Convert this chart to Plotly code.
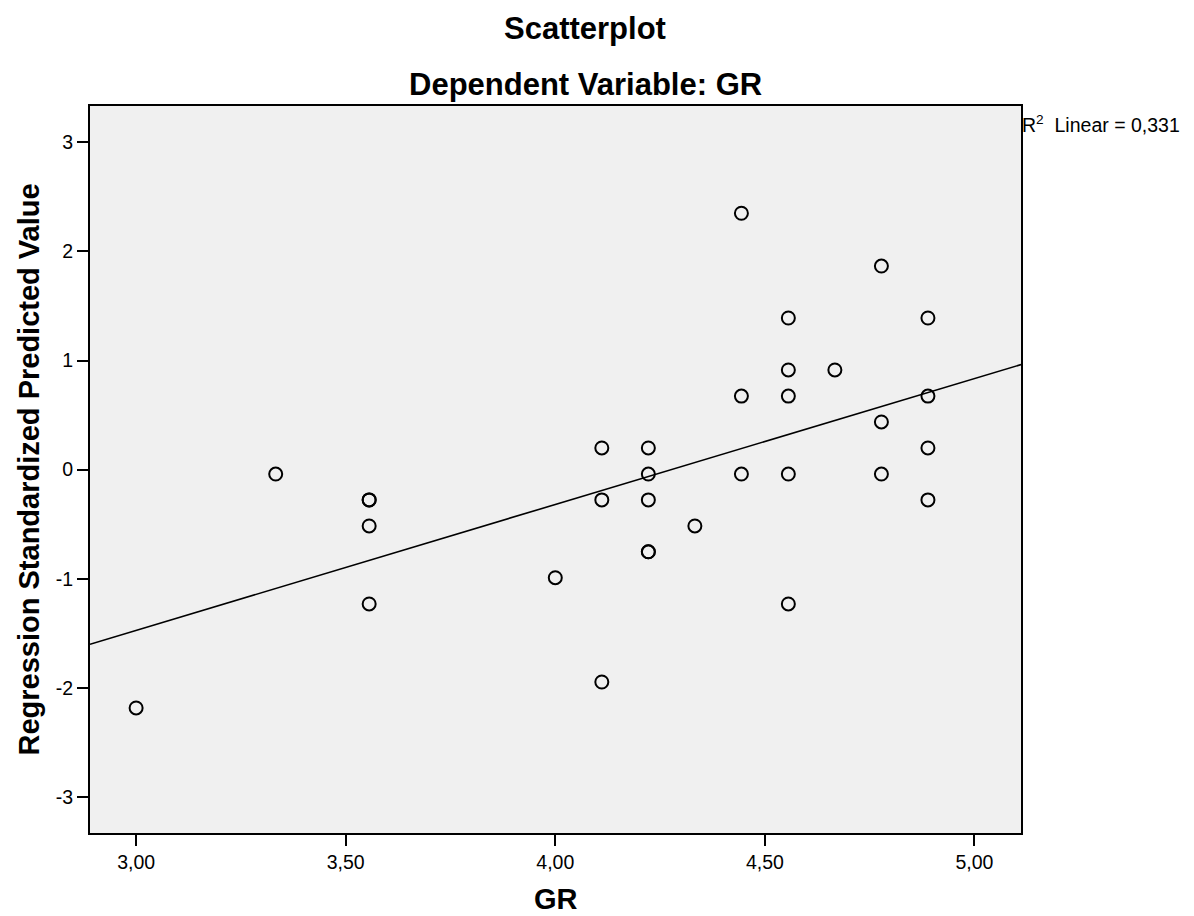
import numpy as np
import plotly.graph_objects as go

# Data: GR (x) vs Regression Standardized Predicted Value (y)
gr = [3.000, 3.333, 3.556, 3.556, 3.556, 3.556, 4.000, 4.111, 4.111, 4.111,
      4.222, 4.222, 4.222, 4.222, 4.222, 4.333, 4.444, 4.444, 4.444,
      4.556, 4.556, 4.556, 4.556, 4.556, 4.667, 4.778, 4.778, 4.778,
      4.889, 4.889, 4.889, 4.889]
pred = [-2.184, -0.040, -0.277, -0.277, -0.516, -1.231, -0.990, 0.199, -0.277, -1.946,
        0.199, -0.040, -0.277, -0.753, -0.753, -0.516, 2.350, 0.674, -0.040,
        1.390, 0.914, 0.674, -0.040, -1.231, 0.914, 1.866, 0.437, -0.040,
        1.390, 0.674, 0.199, -0.277]

x_tickvals = [3.0, 3.5, 4.0, 4.5, 5.0]
x_ticktext = ["3,00", "3,50", "4,00", "4,50", "5,00"]
y_tickvals = [-3, -2, -1, 0, 1, 2, 3]
y_ticktext = ["-3", "-2", "-1", "0", "1", "2", "3"]
x_range = [2.89, 5.111]
y_range = [-3.33, 3.333]

x_arr = np.array(gr)
y_arr = np.array(pred)
slope, intercept = np.polyfit(x_arr, y_arr, 1)
r2 = np.corrcoef(x_arr, y_arr)[0, 1] ** 2
line_x = np.array(x_range)
line_y = intercept + slope * line_x

FONT = "Liberation Sans, Arial, sans-serif"

fig = go.Figure()
fig.add_trace(go.Scatter(
    x=line_x, y=line_y, mode="lines",
    line=dict(color="black", width=1.6),
    hoverinfo="skip", showlegend=False))
fig.add_trace(go.Scatter(
    x=gr, y=pred, mode="markers",
    marker=dict(symbol="circle-open", size=13, color="black",
                line=dict(color="black", width=2)),
    showlegend=False))

axis_common = dict(showgrid=False, zeroline=False, showline=True, mirror=True,
                   linecolor="black", linewidth=2, ticks="outside", ticklen=11,
                   tickwidth=2, tickcolor="black",
                   tickfont=dict(size=19.5, family=FONT, color="black"))

fig.update_layout(
    width=1194, height=916,
    margin=dict(l=90, r=173, t=106, b=83),
    paper_bgcolor="white",
    plot_bgcolor="#F0F0F0",
    font=dict(family=FONT, color="black"),
    xaxis=dict(range=x_range, tickvals=x_tickvals, ticktext=x_ticktext, **axis_common),
    yaxis=dict(range=y_range, tickvals=y_tickvals, ticktext=y_ticktext, **axis_common),
    annotations=[
        dict(text="<b>Scatterplot</b>", xref="paper", yref="paper",
             x=0.5317, y=1.0, yshift=78, xanchor="center", yanchor="middle",
             showarrow=False, font=dict(size=31, family=FONT)),
        dict(text="<b>Dependent Variable: GR</b>", xref="paper", yref="paper",
             x=0.5317, y=1.0, yshift=22, xanchor="center", yanchor="middle",
             showarrow=False, font=dict(size=31, family=FONT)),
        dict(text="<b>GR</b>", xref="paper", yref="paper",
             x=0.5, y=0, yshift=-66, xanchor="center", yanchor="middle",
             showarrow=False, font=dict(size=29, family=FONT)),
        dict(text="<b>Regression Standardized Predicted Value</b>", xref="paper", yref="paper",
             x=0, xshift=-62, y=0.5, xanchor="center", yanchor="middle", textangle=-90,
             showarrow=False, font=dict(size=29, family=FONT)),
        dict(text="R<sup>2</sup>\u00a0\u00a0Linear = " + f"{r2:.3f}".replace(".", ","),
             xref="paper", yref="paper",
             x=1.0, xshift=-1, y=0.975, xanchor="left", yanchor="middle",
             showarrow=False, font=dict(size=19.5, family=FONT)),
    ],
)

fig.write_html("out.html", config={"displayModeBar": False},
               post_script="document.body.style.margin='0';")
